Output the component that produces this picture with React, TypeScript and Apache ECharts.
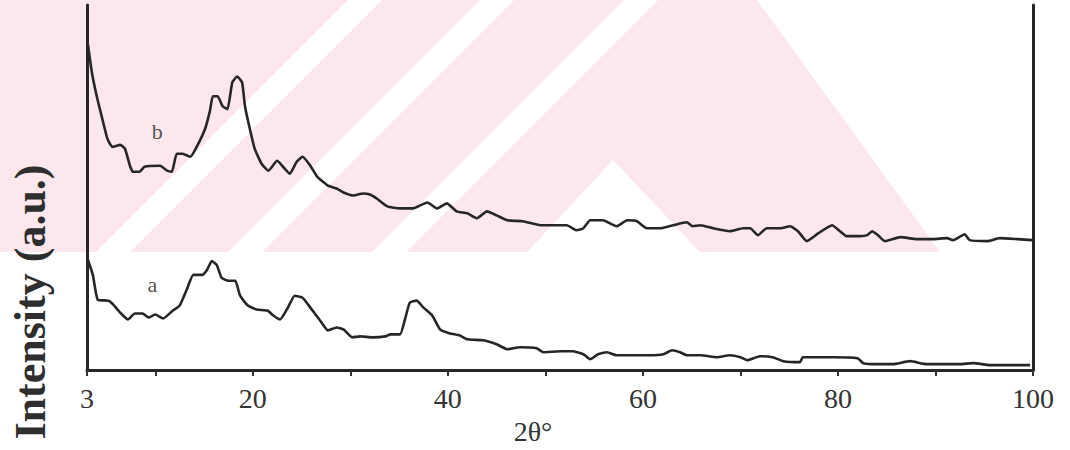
import React, { useEffect, useRef } from "react";
import * as echarts from "echarts";

// 2θ (degrees) and intensity (a.u.) for curve b (upper trace)
const thetaB = [3.1, 3.5, 4.0, 4.5, 5.1, 5.6, 6.4, 6.9, 7.4, 7.7, 8.4, 8.9, 10.5, 11.2, 11.7, 12.2, 12.8, 13.6, 14.3, 15.1, 15.6, 15.9, 16.4, 16.9, 17.4, 17.9, 18.4, 18.9, 19.2, 19.7, 20.2, 20.9, 21.6, 22.5, 23.1, 23.8, 24.5, 25.1, 25.9, 26.6, 27.7, 28.6, 29.3, 30.3, 31.3, 32.0, 32.7, 33.8, 35.1, 36.4, 37.9, 38.9, 39.9, 40.9, 42.0, 43.0, 44.0, 45.0, 46.1, 47.7, 49.5, 50.8, 52.2, 53.2, 53.9, 54.6, 55.9, 57.3, 58.4, 59.4, 60.4, 61.8, 63.1, 64.5, 65.1, 65.9, 67.2, 68.9, 70.3, 71.0, 71.8, 72.7, 74.1, 75.1, 75.9, 76.8, 78.0, 79.4, 80.2, 80.9, 82.3, 83.0, 83.5, 84.1, 84.8, 86.4, 88.1, 89.7, 91.2, 91.8, 93.0, 93.5, 95.3, 96.6, 98.4, 99.9];
const intensityB = [328, 300, 276, 256, 233, 225, 227, 223, 206, 200, 200, 205, 206, 201, 200, 218, 218, 215, 226, 243, 261, 276, 276, 266, 263, 290, 296, 290, 266, 243, 223, 208, 201, 211, 205, 198, 210, 215, 206, 195, 186, 183, 179, 176, 178, 177, 173, 165, 163, 163, 169, 163, 168, 160, 158, 153, 160, 156, 151, 150, 146, 146, 146, 141, 143, 151, 151, 145, 151, 150, 143, 143, 146, 149, 145, 146, 143, 140, 143, 143, 136, 143, 143, 145, 140, 130, 138, 146, 140, 135, 135, 136, 140, 136, 130, 134, 132, 132, 133, 131, 137, 131, 130, 133, 132, 131];

// 2θ (degrees) and intensity (a.u.) for curve a (lower trace)
const thetaA = [3.1, 3.6, 4.1, 5.2, 5.7, 6.4, 7.2, 7.9, 8.7, 9.3, 10.0, 10.8, 11.8, 12.5, 13.3, 13.9, 14.8, 15.3, 15.8, 16.3, 16.8, 17.5, 18.2, 18.7, 19.5, 20.4, 21.5, 22.1, 22.8, 23.6, 24.3, 25.1, 25.9, 26.9, 27.7, 28.6, 29.3, 30.2, 31.0, 32.3, 33.6, 34.1, 35.1, 35.6, 36.1, 36.8, 37.5, 38.4, 39.2, 40.2, 41.2, 42.0, 43.6, 45.0, 46.1, 47.4, 49.1, 49.8, 51.5, 52.8, 53.9, 54.6, 55.4, 56.3, 57.3, 59.0, 60.7, 62.1, 63.0, 63.8, 64.5, 65.9, 67.6, 68.9, 70.0, 70.7, 72.0, 73.3, 74.4, 76.1, 76.4, 77.9, 79.5, 82.0, 82.6, 84.0, 85.6, 87.4, 89.1, 90.5, 92.5, 93.9, 95.6, 97.3, 99.7];
const intensityA = [111, 96, 71, 70, 66, 58, 51, 57, 57, 53, 56, 52, 60, 65, 83, 96, 96, 101, 110, 106, 93, 90, 90, 75, 65, 61, 60, 55, 51, 63, 75, 73, 63, 50, 40, 43, 41, 33, 34, 33, 34, 36, 36, 51, 68, 70, 63, 55, 41, 37, 35, 31, 30, 26, 21, 23, 22, 18, 19, 19, 16, 11, 16, 18, 15, 15, 15, 16, 20, 18, 15, 15, 13, 15, 13, 10, 14, 13, 9, 8, 13, 13, 13, 12, 7, 6, 6, 9, 6, 6, 6, 7, 5, 5, 5];

const tickValues = [3, 10, 20, 30, 40, 50, 60, 70, 80, 90, 100];
const labelValues = [3, 20, 40, 60, 80, 100];
const curveNames = ["a", "b"];
const labelPosA = [9.7, 86];
const labelPosB = [10.2, 240];

const zip = (xs: number[], ys: number[]) => xs.map((x, i) => [x, ys[i]]);

// pale scanned watermark behind the plot (decoration only)
const WM_PINK = "#fce8ec";
const wmBand = (c: number, w: number, h: number) => [
  [c - w / 2, 0],
  [c + w / 2, 0],
  [c - h + w / 2, h],
  [c - h - w / 2, h],
];

export default function App() {
  const ref = useRef<HTMLDivElement>(null);
  useEffect(() => {
    if (!ref.current) return;
    const chart = echarts.init(ref.current, null, { renderer: "svg" });
    const ink = "#262626";
    const serif = "'Liberation Serif', 'DejaVu Serif', serif";
    const lineCommon = {
      type: "line" as const,
      showSymbol: false,
      symbol: "none",
      smooth: 0.15,
      lineStyle: { color: ink, width: 2.6 },
      z: 3,
    };
    const markLabel = (name: string, pos: number[]) => ({
      symbol: "circle",
      symbolSize: 1,
      silent: true,
      itemStyle: { color: "rgba(0,0,0,0)" },
      label: {
        show: true,
        formatter: name,
        position: "inside",
        color: "#555",
        fontFamily: serif,
        fontSize: 22,
      },
      data: [{ name, coord: pos }],
    });
    const wmH = 252;
    chart.setOption({
      animation: false,
      backgroundColor: "#ffffff",
      grid: { left: 87, right: 37, top: 5, bottom: 77, containLabel: false },
      xAxis: {
        type: "value",
        min: 3,
        max: 100,
        name: "2θ°",
        nameLocation: "middle",
        nameGap: 46,
        nameTextStyle: {
          fontFamily: serif,
          fontSize: 28,
          color: "#333",
          padding: [0, 54, 0, 0],
        },
        axisLine: { show: true, onZero: false, lineStyle: { color: ink, width: 3 } },
        axisTick: {
          show: true,
          customValues: tickValues,
          length: 6,
          lineStyle: { color: "#333", width: 2 },
        },
        axisLabel: {
          show: true,
          customValues: labelValues,
          margin: 14,
          fontFamily: serif,
          fontSize: 28,
          color: "#333",
        },
        splitLine: { show: false },
      },
      yAxis: [
        {
          type: "value",
          min: 0,
          max: 368,
          position: "left",
          axisLine: { show: true, lineStyle: { color: ink, width: 3 } },
          axisTick: { show: false },
          axisLabel: { show: false },
          splitLine: { show: false },
        },
        {
          type: "value",
          min: 0,
          max: 368,
          position: "right",
          axisLine: { show: true, lineStyle: { color: ink, width: 3 } },
          axisTick: { show: false },
          axisLabel: { show: false },
          splitLine: { show: false },
        },
      ],
      graphic: [
        {
          type: "polygon",
          z: -10,
          silent: true,
          shape: { points: [[0, 0], [757, 0], [940, wmH], [0, wmH]] },
          style: { fill: WM_PINK },
        },
        ...[365, 497, 641].map((c) => ({
          type: "polygon",
          z: -9,
          silent: true,
          shape: { points: wmBand(c, 34, wmH) },
          style: { fill: "#ffffff" },
        })),
        {
          type: "polygon",
          z: -9,
          silent: true,
          shape: { points: [[527, wmH], [613, 160], [700, wmH]] },
          style: { fill: "#ffffff" },
        },
        {
          type: "text",
          x: 30,
          y: 302,
          rotation: Math.PI / 2,
          style: {
            text: "Intensity (a.u.)",
            fontFamily: serif,
            fontWeight: "bold",
            fontSize: 44,
            fill: "#2e2e2e",
            textAlign: "center",
            textVerticalAlign: "middle",
          },
        },
      ],
      series: [
        {
          ...lineCommon,
          name: curveNames[0],
          data: zip(thetaA, intensityA),
          markPoint: markLabel(curveNames[0], labelPosA),
        },
        {
          ...lineCommon,
          name: curveNames[1],
          data: zip(thetaB, intensityB),
          markPoint: markLabel(curveNames[1], labelPosB),
        },
      ],
    });
    return () => chart.dispose();
  }, []);
  return (
    <div
      ref={ref}
      style={{ position: "fixed", left: 0, top: 0, width: 1070, height: 450 }}
    />
  );
}
